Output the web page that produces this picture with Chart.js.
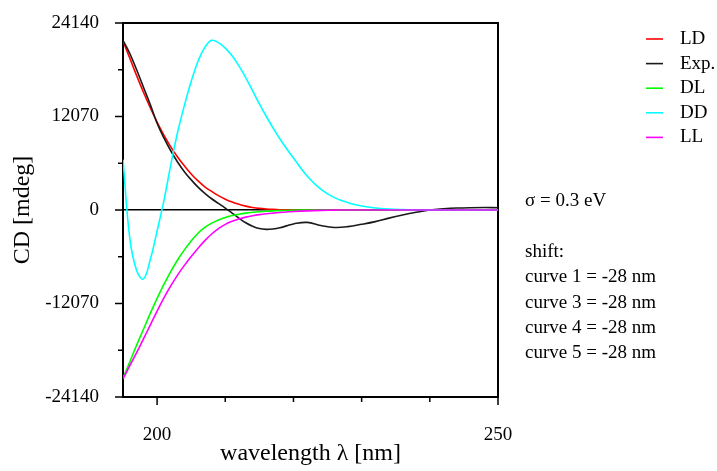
<!DOCTYPE html>
<html>
<head>
<meta charset="utf-8">
<script src="https://cdn.jsdelivr.net/npm/chart.js@4.4.1/dist/chart.umd.min.js"></script>
<style>
body { margin: 0; background: #fff; }
</style>
</head>
<body>
<canvas id="cd_chart" width="717" height="471"></canvas>
<script>
'use strict';

// wavelength in nm
const wavelengths = [195,196,197,198,199,200,201,202,203,204,205,206,207,208,209,210,211,212,213,214,215,216,217,218,219,220,
    222,224,226,228,230,232,234,236,238,240,242,244,246,248,250];

// CD in mdeg
const ld_values = [21800,19600,17350,15200,13200,11350,9650,8150,6850,5700,4650,3750,3000,2400,1850,1400,1030,730,500,330,210,130,75,40,20,10,
    0,0,0,0,0,0,0,0,0,0,0,0,0,0,0];
const exp_values = [21900,20200,18100,15850,13600,11200,9300,7650,6200,4950,3900,2950,2150,1450,850,250,-400,-1050,-1650,-2100,-2400,-2500,-2450,-2300,-2050,-1800,
    -1600,-2000,-2250,-2150,-1850,-1500,-1050,-650,-300,0,150,250,300,320,300];
const dl_values = [-21700,-19600,-17450,-15400,-13350,-11400,-9600,-7950,-6450,-5150,-4000,-3000,-2250,-1700,-1280,-960,-720,-540,-400,-300,-220,-160,-115,-80,-55,-35,
    -12,0,0,0,0,0,0,0,0,0,0,0,0,0,0];
const dd_values = [6500,-3700,-7800,-8900,-6400,-2700,1200,5800,10000,13500,16600,19200,21000,21900,21600,20900,19900,18600,17100,15400,13700,12100,10600,9200,7900,6700,
    4400,2700,1600,950,520,260,120,50,15,0,0,0,0,0,0];
const ll_values = [-21800,-20100,-18400,-16650,-14850,-13050,-11350,-9800,-8400,-7150,-6000,-4950,-3950,-3100,-2400,-1850,-1450,-1150,-920,-740,-600,-490,-400,-320,-250,-190,
    -110,-50,-15,0,0,0,0,0,0,0,0,0,0,0,0];

const x_ticks = [200,210,220,230,240,250];
const x_labels = [200,250];
const y_ticks = [-24140,-18105,-12070,-6035,0,6035,12070,18105,24140];
const y_labels = [-24140,-12070,0,12070,24140];

const notes = ['σ = 0.3 eV', '', 'shift:', 'curve 1 = -28 nm', 'curve 3 = -28 nm', 'curve 4 = -28 nm', 'curve 5 = -28 nm'];

const serif = '"Liberation Serif", "Times New Roman", serif';

function make_points(values) {
    return wavelengths.map(function (w, i) { return { x: w, y: values[i] }; });
}

function make_set(label, values, color, order) {
    return {
        label: label,
        data: make_points(values),
        borderColor: color,
        backgroundColor: color,
        borderWidth: 1.6,
        pointRadius: 0,
        tension: 0.4,
        fill: false,
        order: order
    };
}

// ticks, frame, legend and notes
const cd_extras = {
    id: 'cd_extras',
    beforeDatasetsDraw: function (chart) {
        const c = chart.ctx;
        const a = chart.chartArea;
        c.save();
        c.strokeStyle = '#000';
        c.lineWidth = 2;
        c.beginPath();
        c.moveTo(a.left, a.top);
        c.lineTo(a.right, a.top);
        c.lineTo(a.right, a.bottom);
        c.stroke();

        c.lineWidth = 1.5;
        const xs = chart.scales.x;
        xs.ticks.forEach(function (t) {
            const px = xs.getPixelForValue(t.value);
            const len = x_labels.indexOf(t.value) >= 0 ? 8 : 5;
            c.beginPath();
            c.moveTo(px, a.bottom);
            c.lineTo(px, a.bottom + len);
            c.stroke();
        });
        const ys = chart.scales.y;
        ys.ticks.forEach(function (t) {
            const py = ys.getPixelForValue(t.value);
            const len = y_labels.indexOf(t.value) >= 0 ? 8 : 5;
            c.beginPath();
            c.moveTo(a.left - len, py);
            c.lineTo(a.left, py);
            c.stroke();
        });
        c.restore();
    },
    afterDraw: function (chart) {
        const c = chart.ctx;
        c.save();
        c.font = '19px ' + serif;
        c.textBaseline = 'middle';
        c.fillStyle = '#000';
        const legend_order = ['LD', 'Exp.', 'DL', 'DD', 'LL'];
        legend_order.forEach(function (name, i) {
            const ds = chart.data.datasets.find(function (d) { return d.label === name; });
            const y = 39 + i * 24.6;
            c.strokeStyle = ds.borderColor;
            c.lineWidth = 1.6;
            c.beginPath();
            c.moveTo(646, y);
            c.lineTo(663, y);
            c.stroke();
            c.fillText(name, 680, y);
        });
        notes.forEach(function (line, i) {
            c.fillText(line, 525, 201 + i * 25.4);
        });
        c.restore();
    }
};

const ctx = document.getElementById('cd_chart');

const cd_chart = new Chart(ctx, {
    type: 'line',
    data: {
        datasets: [
            make_set('LD', ld_values, '#ff0000', 5),
            make_set('Exp.', exp_values, '#1a1a1a', 4),
            make_set('DL', dl_values, '#00ff00', 3),
            make_set('DD', dd_values, '#00ffff', 2),
            make_set('LL', ll_values, '#ff00ff', 1)
        ]
    },
    options: {
        responsive: false,
        animation: false,
        devicePixelRatio: 1,
        layout: { padding: { top: 23, right: 219, left: 0, bottom: 0 } },
        plugins: {
            legend: { display: false },
            tooltip: { enabled: false }
        },
        scales: {
            x: {
                type: 'linear',
                min: 195,
                max: 250,
                afterBuildTicks: function (s) { s.ticks = x_ticks.map(function (v) { return { value: v }; }); },
                afterFit: function (s) { s.height = 74; s.paddingLeft = 0; s.paddingRight = 0; },
                ticks: {
                    autoSkip: false,
                    maxRotation: 0,
                    padding: 27,
                    color: '#000',
                    font: { family: serif, size: 19 },
                    callback: function (v) { return x_labels.indexOf(v) >= 0 ? String(v) : ''; }
                },
                grid: { display: false, drawTicks: false },
                border: { color: '#000', width: 2 },
                title: {
                    display: true,
                    text: 'wavelength λ [nm]',
                    color: '#000',
                    font: { family: serif, size: 24 },
                    padding: { top: 0, bottom: 3 }
                }
            },
            y: {
                min: -24140,
                max: 24140,
                afterBuildTicks: function (s) { s.ticks = y_ticks.map(function (v) { return { value: v }; }); },
                afterFit: function (s) { s.width = 123; s.paddingTop = 0; s.paddingBottom = 0; },
                ticks: {
                    autoSkip: false,
                    padding: 24,
                    color: '#000',
                    font: { family: serif, size: 19 },
                    callback: function (v) { return y_labels.indexOf(v) >= 0 ? String(v) : ''; }
                },
                grid: {
                    drawTicks: false,
                    lineWidth: 1.5,
                    color: function (c) { return c.tick && c.tick.value === 0 ? '#000' : 'rgba(0,0,0,0)'; }
                },
                border: { color: '#000', width: 2 },
                title: {
                    display: true,
                    text: 'CD [mdeg]',
                    color: '#000',
                    font: { family: serif, size: 24 },
                    padding: { top: 8, bottom: 0 }
                }
            }
        }
    },
    plugins: [cd_extras]
});
</script>
</body>
</html>
